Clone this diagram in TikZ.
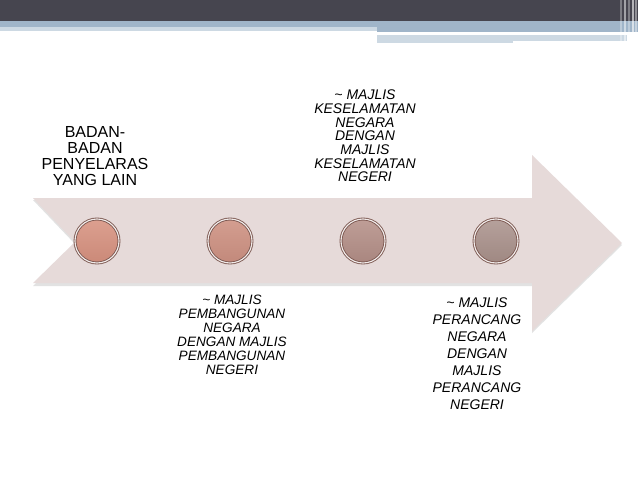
\documentclass[tikz,border=0pt]{standalone}
\usepackage{fontspec}
\setmainfont{Liberation Sans}
\definecolor{bardark}{HTML}{46454F}
\definecolor{barblue}{HTML}{A0B5C9}
\definecolor{barlight}{HTML}{CDD9E3}
\definecolor{arrowfill}{HTML}{E6DAD9}
\definecolor{dotrim}{HTML}{7E5A53}
\definecolor{dotatop}{HTML}{DCA090}
\definecolor{dotabot}{HTML}{CB8978}
\definecolor{dotbtop}{HTML}{D49E90}
\definecolor{dotbbot}{HTML}{C2897B}
\definecolor{dotctop}{HTML}{BF9E97}
\definecolor{dotcbot}{HTML}{A9867F}
\definecolor{dotdtop}{HTML}{B6A19C}
\definecolor{dotdbot}{HTML}{9F8882}
\newcommand\tightlines{\lineskiplimit=-20pt\relax}

\begin{document}
\begin{tikzpicture}[x=1pt,y=-1pt,node distance=133pt,
		dot node/.style = {circle,draw=dotrim,line width=0.9pt,double=white!45!arrowfill,double distance=1.1pt,minimum size=44pt,inner sep=0pt},
		side text/.style = {align=center,inner sep=0pt,text=black}]
		\useasboundingbox (0,0) rectangle (638,479);
		\fill[white] (0,0) rectangle (638,479);
		
		% top banner
		\fill[bardark] (0,0) rectangle (638,21);
		\fill[barblue] (0,21) rectangle (638,27);
		\fill[barlight] (0,27) rectangle (377,31);
		\fill[barblue] (377,27) rectangle (638,32);
		\fill[barlight] (377,35) rectangle (513,43);
		\fill[barlight] (513,35) rectangle (627,41);
		\foreach \xs/\op in {620/.3,624/.5,628/.3,632/.6,635/.4}
		\fill[white,opacity=\op] (\xs,0) rectangle ++(1.5,43);
		
		% arrow
		\fill[black!45,opacity=.25] (33,200) -- (532,200) -- (532,157) -- (622,245) -- (532,333) -- (532,286) -- (33,286) -- (75,244) -- cycle;
		\fill[arrowfill] (33,198) -- (532,198) -- (532,155) -- (622,243) -- (532,331) -- (532,283) -- (33,283) -- (75,242) -- cycle;
		
		\node[dot node,top color=dotatop,bottom color=dotabot] at (97,241) (c1) {};
		\node[dot node,top color=dotbtop,bottom color=dotbbot] [right of = c1] (c2) {};
		\node[dot node,top color=dotctop,bottom color=dotcbot] [right of = c2] (c3) {};
		\node[dot node,top color=dotdtop,bottom color=dotdbot] [right of = c3] (c4) {};
		
		\node[side text,font=\fontsize{16}{16}\selectfont\tightlines] at (95,156) (t1) {BADAN-\\BADAN\\PENYELARAS\\YANG LAIN};
		\node[side text,font=\fontsize{13.6}{14}\selectfont\itshape\tightlines] at (232,335) (t2) {\textasciitilde{} MAJLIS\\PEMBANGUNAN\\NEGARA\\DENGAN MAJLIS\\PEMBANGUNAN\\NEGERI};
		\node[side text,font=\fontsize{14}{13.7}\selectfont\itshape\tightlines] at (365,136) (t3) {\textasciitilde{} MAJLIS\\KESELAMATAN\\NEGARA\\DENGAN\\MAJLIS\\KESELAMATAN\\NEGERI};
		\node[side text,font=\fontsize{14}{17}\selectfont\itshape\tightlines] at (477,354) (t4) {\textasciitilde{} MAJLIS\\PERANCANG\\NEGARA\\DENGAN\\MAJLIS\\PERANCANG\\NEGERI};
		
		\end{tikzpicture}
\end{document}
